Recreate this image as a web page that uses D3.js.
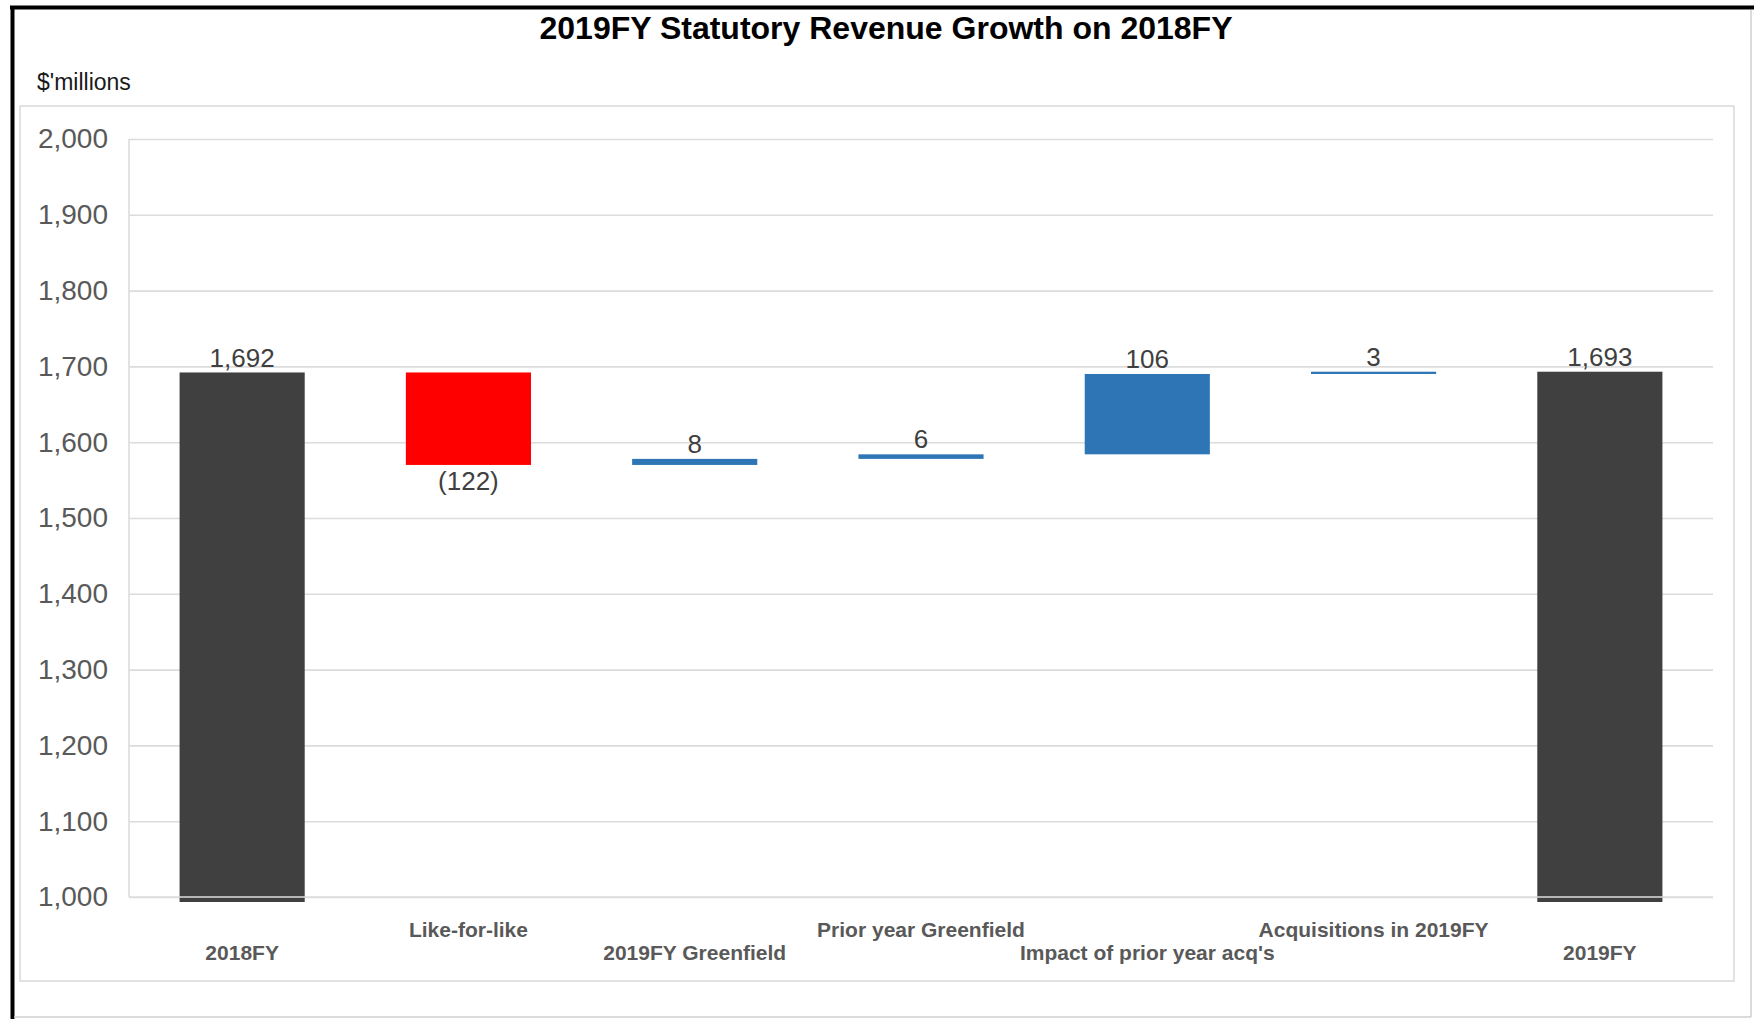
<!DOCTYPE html>
<html>
<head>
<meta charset="utf-8">
<script src="https://cdn.jsdelivr.net/npm/d3@7"></script>
<style>
  html, body { margin: 0; padding: 0; background: #fff; }
  svg { display: block; font-family: Arial, "Liberation Sans", sans-serif; }
</style>
</head>
<body>
<svg id="chart" width="1754" height="1019"></svg>
<script>
// Waterfall data ($ millions)
const categories = ["2018FY", "Like-for-like", "2019FY Greenfield", "Prior year Greenfield",
                    "Impact of prior year acq's", "Acquisitions in 2019FY", "2019FY"];
const values     = [1692, -122, 8, 6, 106, 3, 1693];
const kinds      = ["total", "delta", "delta", "delta", "delta", "delta", "total"];
const valueLabels = ["1,692", "(122)", "8", "6", "106", "3", "1,693"];
const yTicks     = [1000, 1100, 1200, 1300, 1400, 1500, 1600, 1700, 1800, 1900, 2000];

const W = 1754, H = 1019;
const plot = { left: 129, right: 1713, top: 139, bottom: 897 };
const baseValue = 1000;
const gridColor = "#dcdcdc";

const svg = d3.select("#chart");

// outer frame: heavy top/left rule, thin grey right/bottom
svg.append("line").attr("x1", 12.5).attr("x2", 12.5).attr("y1", 6).attr("y2", H)
  .attr("stroke", "#000").attr("stroke-width", 4);
svg.append("line").attr("x1", 10).attr("x2", W).attr("y1", 7.5).attr("y2", 7.5)
  .attr("stroke", "#000").attr("stroke-width", 4);
svg.append("line").attr("x1", 1751).attr("x2", 1751).attr("y1", 10).attr("y2", 1017)
  .attr("stroke", "#cfcfcf").attr("stroke-width", 1.5);
svg.append("line").attr("x1", 14).attr("x2", 1751).attr("y1", 1017).attr("y2", 1017)
  .attr("stroke", "#cfcfcf").attr("stroke-width", 1.5);

// inner chart-area border
svg.append("rect").attr("x", 20).attr("y", 106).attr("width", 1714).attr("height", 875)
  .attr("fill", "none").attr("stroke", "#d9d9d9").attr("stroke-width", 1.5);

// title and unit
svg.append("text").attr("x", 886).attr("y", 39).attr("text-anchor", "middle")
  .attr("font-size", 32).attr("font-weight", "bold").attr("fill", "#000")
  .text("2019FY Statutory Revenue Growth on 2018FY");
svg.append("text").attr("x", 37).attr("y", 90)
  .attr("font-size", 23).attr("fill", "#1a1a1a")
  .text("$'millions");

// scales
const x = d3.scaleBand().domain(categories).range([plot.left, plot.right])
  .paddingInner(0.447).paddingOuter(0.2235);
const y = d3.scaleLinear().domain([baseValue, 2000]).range([plot.bottom, plot.top]);

// y axis with gridlines (behind the bars)
const yAxis = d3.axisLeft(y).tickValues(yTicks).tickFormat(d3.format(","))
  .tickSize(-(plot.right - plot.left)).tickPadding(21);
const gy = svg.append("g").attr("transform", `translate(${plot.left},0)`).call(yAxis);
gy.select(".domain").remove();
gy.selectAll(".tick line").attr("stroke", gridColor).attr("stroke-width", 1.6);
gy.selectAll(".tick text").attr("font-size", 28).attr("fill", "#595959")
  .attr("font-family", "Arial, 'Liberation Sans', sans-serif");
// left axis rule
svg.append("line").attr("x1", plot.left).attr("x2", plot.left)
  .attr("y1", plot.top).attr("y2", plot.bottom)
  .attr("stroke", gridColor).attr("stroke-width", 1.6);

// running totals for the floating segments
let running = 0;
const segs = categories.map((c, i) => {
  let lo, hi;
  if (kinds[i] === "total") {
    lo = baseValue; hi = values[i]; running = values[i];
  } else {
    const start = running; running += values[i];
    lo = Math.min(start, running); hi = Math.max(start, running);
  }
  return { cat: c, v: values[i], kind: kinds[i], lo, hi, label: valueLabels[i] };
});

// bars
const colorOf = d => d.kind === "total" ? "#404040" : (d.v < 0 ? "#ff0000" : "#2e75b6");
svg.append("g").selectAll("rect").data(segs).join("rect")
  .attr("x", d => x(d.cat))
  .attr("width", x.bandwidth())
  .attr("y", d => y(d.hi))
  .attr("height", d => (y(d.lo) - y(d.hi)) + (d.kind === "total" ? 5 : 0))
  .attr("fill", colorOf);

// category axis rule drawn over the foot of the total bars
svg.append("line").attr("x1", plot.left).attr("x2", plot.right)
  .attr("y1", y(baseValue)).attr("y2", y(baseValue))
  .attr("stroke", gridColor).attr("stroke-width", 1.6);

// value labels
svg.append("g").selectAll("text").data(segs).join("text")
  .attr("x", d => x(d.cat) + x.bandwidth() / 2)
  .attr("y", d => d.v < 0 ? y(d.lo) + 16 : y(d.hi) - 15)
  .attr("dy", "0.35em")
  .attr("text-anchor", "middle")
  .attr("font-size", 26).attr("fill", "#404040")
  .text(d => d.label);

// category labels, staggered on two rows
svg.append("g").selectAll("text").data(categories).join("text")
  .attr("x", d => x(d) + x.bandwidth() / 2)
  .attr("y", (d, i) => i % 2 === 0 ? 953 : 930)
  .attr("dy", "0.35em")
  .attr("text-anchor", "middle")
  .attr("font-size", 21).attr("font-weight", "bold").attr("fill", "#595959")
  .text(d => d);
</script>
</body>
</html>
